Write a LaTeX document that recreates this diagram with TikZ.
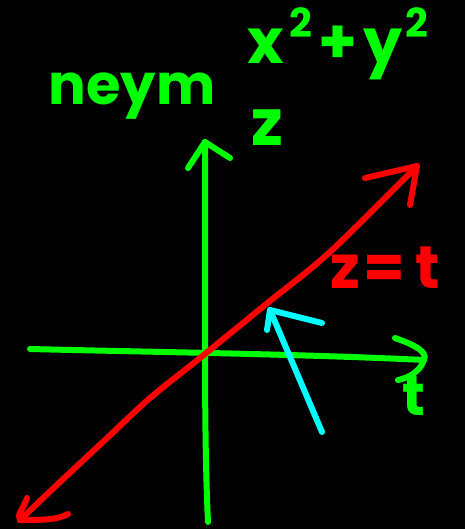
\documentclass[tikz,border=0pt]{standalone}
\usepackage{fontspec}
\setmainfont{Poppins}
\newcommand{\supsc}[1]{\raisebox{0.42em}{\fontsize{40}{40}\selectfont #1}}
\begin{document}
\begin{tikzpicture}[x=1pt,y=-1pt,
  stroke/.style={line width=6pt,line cap=round,line join=round},
  gline/.style={stroke,draw={rgb,255:red,0;green,255;blue,0}},
  rline/.style={stroke,draw={rgb,255:red,255;green,0;blue,0}},
  cline/.style={stroke,draw={rgb,255:red,0;green,255;blue,255}},
  gtext/.style={text={rgb,255:red,0;green,255;blue,0},inner sep=0pt,font=\fontsize{56}{56}\selectfont\bfseries},
  rtext/.style={text={rgb,255:red,255;green,0;blue,0},inner sep=0pt,font=\fontsize{60}{60}\selectfont\bfseries}]
\fill[black] (0,0) rectangle (465,529);
\useasboundingbox (0,0) rectangle (465,529);
% vertical axis
\coordinate (vb) at (208,522);
\coordinate (vt) at (205,142);
\coordinate (vl) at (188,168);
\coordinate (vr) at (230,158);
\draw[gline] (vb) .. controls (203,420) and (206,260) .. (vt);
\draw[gline] (vl) -- (vt) -- (vr);
% horizontal axis
\coordinate (hl) at (30,349);
\coordinate (hr) at (424,360);
\coordinate (hu) at (395,338);
\coordinate (hd) at (398,380);
\draw[gline] (hl) .. controls (150,352) and (300,354) .. (hr);
\draw[gline] (hu) .. controls (415,345) and (428,352) .. (hr) .. controls (420,372) and (408,378) .. (hd);
% t label (green)
\node[gtext] (tlab) at (414,396) {t};
% red line z=t
\coordinate (ra) at (20,520);
\coordinate (rb) at (417,166);
\draw[rline] plot[smooth] coordinates {(ra) (60,482) (105,440) (150,398) (200,358) (265,305) (330,252) (rb)};
\coordinate (ru) at (365,178);
\coordinate (rd) at (410,205);
\draw[rline] (ru) -- (rb) -- (rd);
\coordinate (rl1) at (27,498);
\coordinate (rl2) at (68,514);
\draw[rline] (rl1) .. controls (24,508) and (16,515) .. (ra) .. controls (40,520) and (58,520) .. (rl2);
\node[rtext,anchor=west] (zt) at (330,268) {z\hspace{4pt}=\hspace{10pt}t};
% cyan arrow
\coordinate (ca) at (322,432);
\coordinate (cb) at (270,310);
\coordinate (cl) at (267,330);
\coordinate (cr) at (322,323);
\draw[cline] (ca) -- (cb);
\draw[cline] (cl) -- (cb) -- (cr);
% top labels
\node[gtext,font=\fontsize{62}{62}\selectfont\bfseries] (xy) at (338,44) {x\hspace{6pt}\supsc{2}\hspace{6pt}+\hspace{6pt}y\hspace{3pt}\supsc{2}};
\node[gtext] (neym) at (132,96) {neym};
\node[gtext,font=\fontsize{64}{64}\selectfont\bfseries] (zlab) at (267,128) {z};
\end{tikzpicture}
\end{document}
